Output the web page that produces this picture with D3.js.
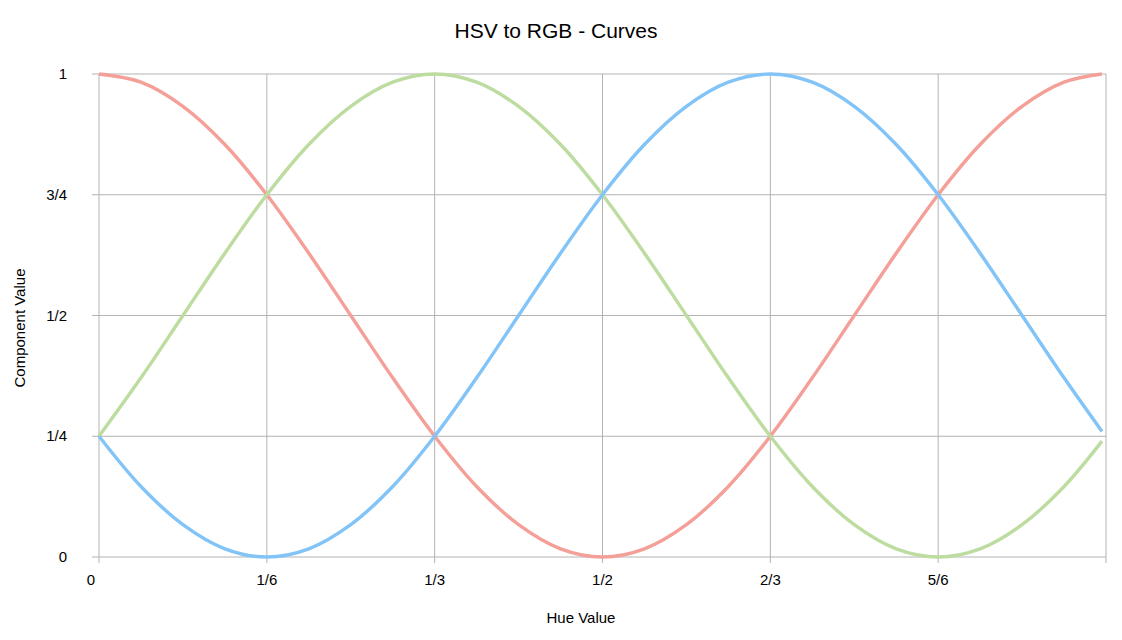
<!DOCTYPE html>
<meta charset="utf-8">
<style>
body { margin: 0; background: #fff; }
text { font-family: "Liberation Sans", Arial, sans-serif; }
</style>
<body>
<svg id="chart" width="1122" height="640"></svg>
</body>
<script src="https://d3js.org/d3.v7.min.js"></script>
<script>
// hue sample points (1/24 steps, last one at the chart's right edge)
var hues = [0, 1/24, 2/24, 3/24, 4/24, 5/24, 6/24, 7/24, 8/24, 9/24, 10/24, 11/24, 12/24,
            13/24, 14/24, 15/24, 16/24, 17/24, 18/24, 19/24, 20/24, 21/24, 22/24, 23/24, 0.996];
var red =   [1, 0.983, 0.933, 0.854, 0.75, 0.629, 0.5, 0.371, 0.25, 0.146, 0.067, 0.017, 0,
             0.017, 0.067, 0.146, 0.25, 0.371, 0.5, 0.629, 0.75, 0.854, 0.933, 0.983, 1];
var green = [0.25, 0.371, 0.5, 0.629, 0.75, 0.854, 0.933, 0.983, 1, 0.983, 0.933, 0.854, 0.75,
             0.629, 0.5, 0.371, 0.25, 0.146, 0.067, 0.017, 0, 0.017, 0.067, 0.146, 0.24];
var blue =  [0.25, 0.146, 0.067, 0.017, 0, 0.017, 0.067, 0.146, 0.25, 0.371, 0.5, 0.629, 0.75,
             0.854, 0.933, 0.983, 1, 0.983, 0.933, 0.854, 0.75, 0.629, 0.5, 0.371, 0.26];
var xTicks = [0, 1/6, 1/3, 1/2, 2/3, 5/6];
var xLabels = ["0", "1/6", "1/3", "1/2", "2/3", "5/6"];
var yTicks = [0, 0.25, 0.5, 0.75, 1];
var yLabels = ["0", "1/4", "1/2", "3/4", "1"];

var svg = d3.select("#chart");
var x = d3.scaleLinear().domain([0, 1]).range([99, 1106]);
var y = d3.scaleLinear().domain([0, 1]).range([557, 74]);

// grid
svg.append("g").selectAll("line").data(yTicks).enter().append("line")
  .attr("x1", 92).attr("x2", 1106).attr("y1", y).attr("y2", y)
  .attr("stroke", "#b3b3b3").attr("stroke-width", 1);
svg.append("g").selectAll("line").data(xTicks.concat([1])).enter().append("line")
  .attr("x1", x).attr("x2", x).attr("y1", 74).attr("y2", 563)
  .attr("stroke", "#b3b3b3").attr("stroke-width", 1);

// tick labels
svg.append("g").selectAll("text").data(yTicks).enter().append("text")
  .attr("x", 67).attr("y", function(d) { return y(d) + 5; })
  .attr("text-anchor", "end").attr("font-size", 15)
  .text(function(d, i) { return yLabels[i]; });
svg.append("g").selectAll("text").data(xTicks).enter().append("text")
  .attr("x", function(d) { return x(d) - (d === 0 ? 8 : 0); }).attr("y", 585)
  .attr("text-anchor", "middle").attr("font-size", 15)
  .text(function(d, i) { return xLabels[i]; });

// curves
var line = d3.line().x(function(d) { return x(d[0]); }).y(function(d) { return y(d[1]); })
  .curve(d3.curveCatmullRom.alpha(0.5));
[[red, "#f49f98"], [green, "#bddc9f"], [blue, "#82c4f7"]].forEach(function(s) {
  svg.append("path").datum(d3.zip(hues, s[0])).attr("d", line)
    .attr("fill", "none").attr("stroke", s[1]).attr("stroke-width", 3.4);
});

// titles
svg.append("text").attr("x", 556).attr("y", 38).attr("text-anchor", "middle")
  .attr("font-size", 21).text("HSV to RGB - Curves");
svg.append("text").attr("x", 581).attr("y", 623).attr("text-anchor", "middle")
  .attr("font-size", 15).text("Hue Value");
svg.append("text").attr("transform", "translate(25,328) rotate(-90)").attr("text-anchor", "middle")
  .attr("font-size", 15).text("Component Value");
</script>
</html>
